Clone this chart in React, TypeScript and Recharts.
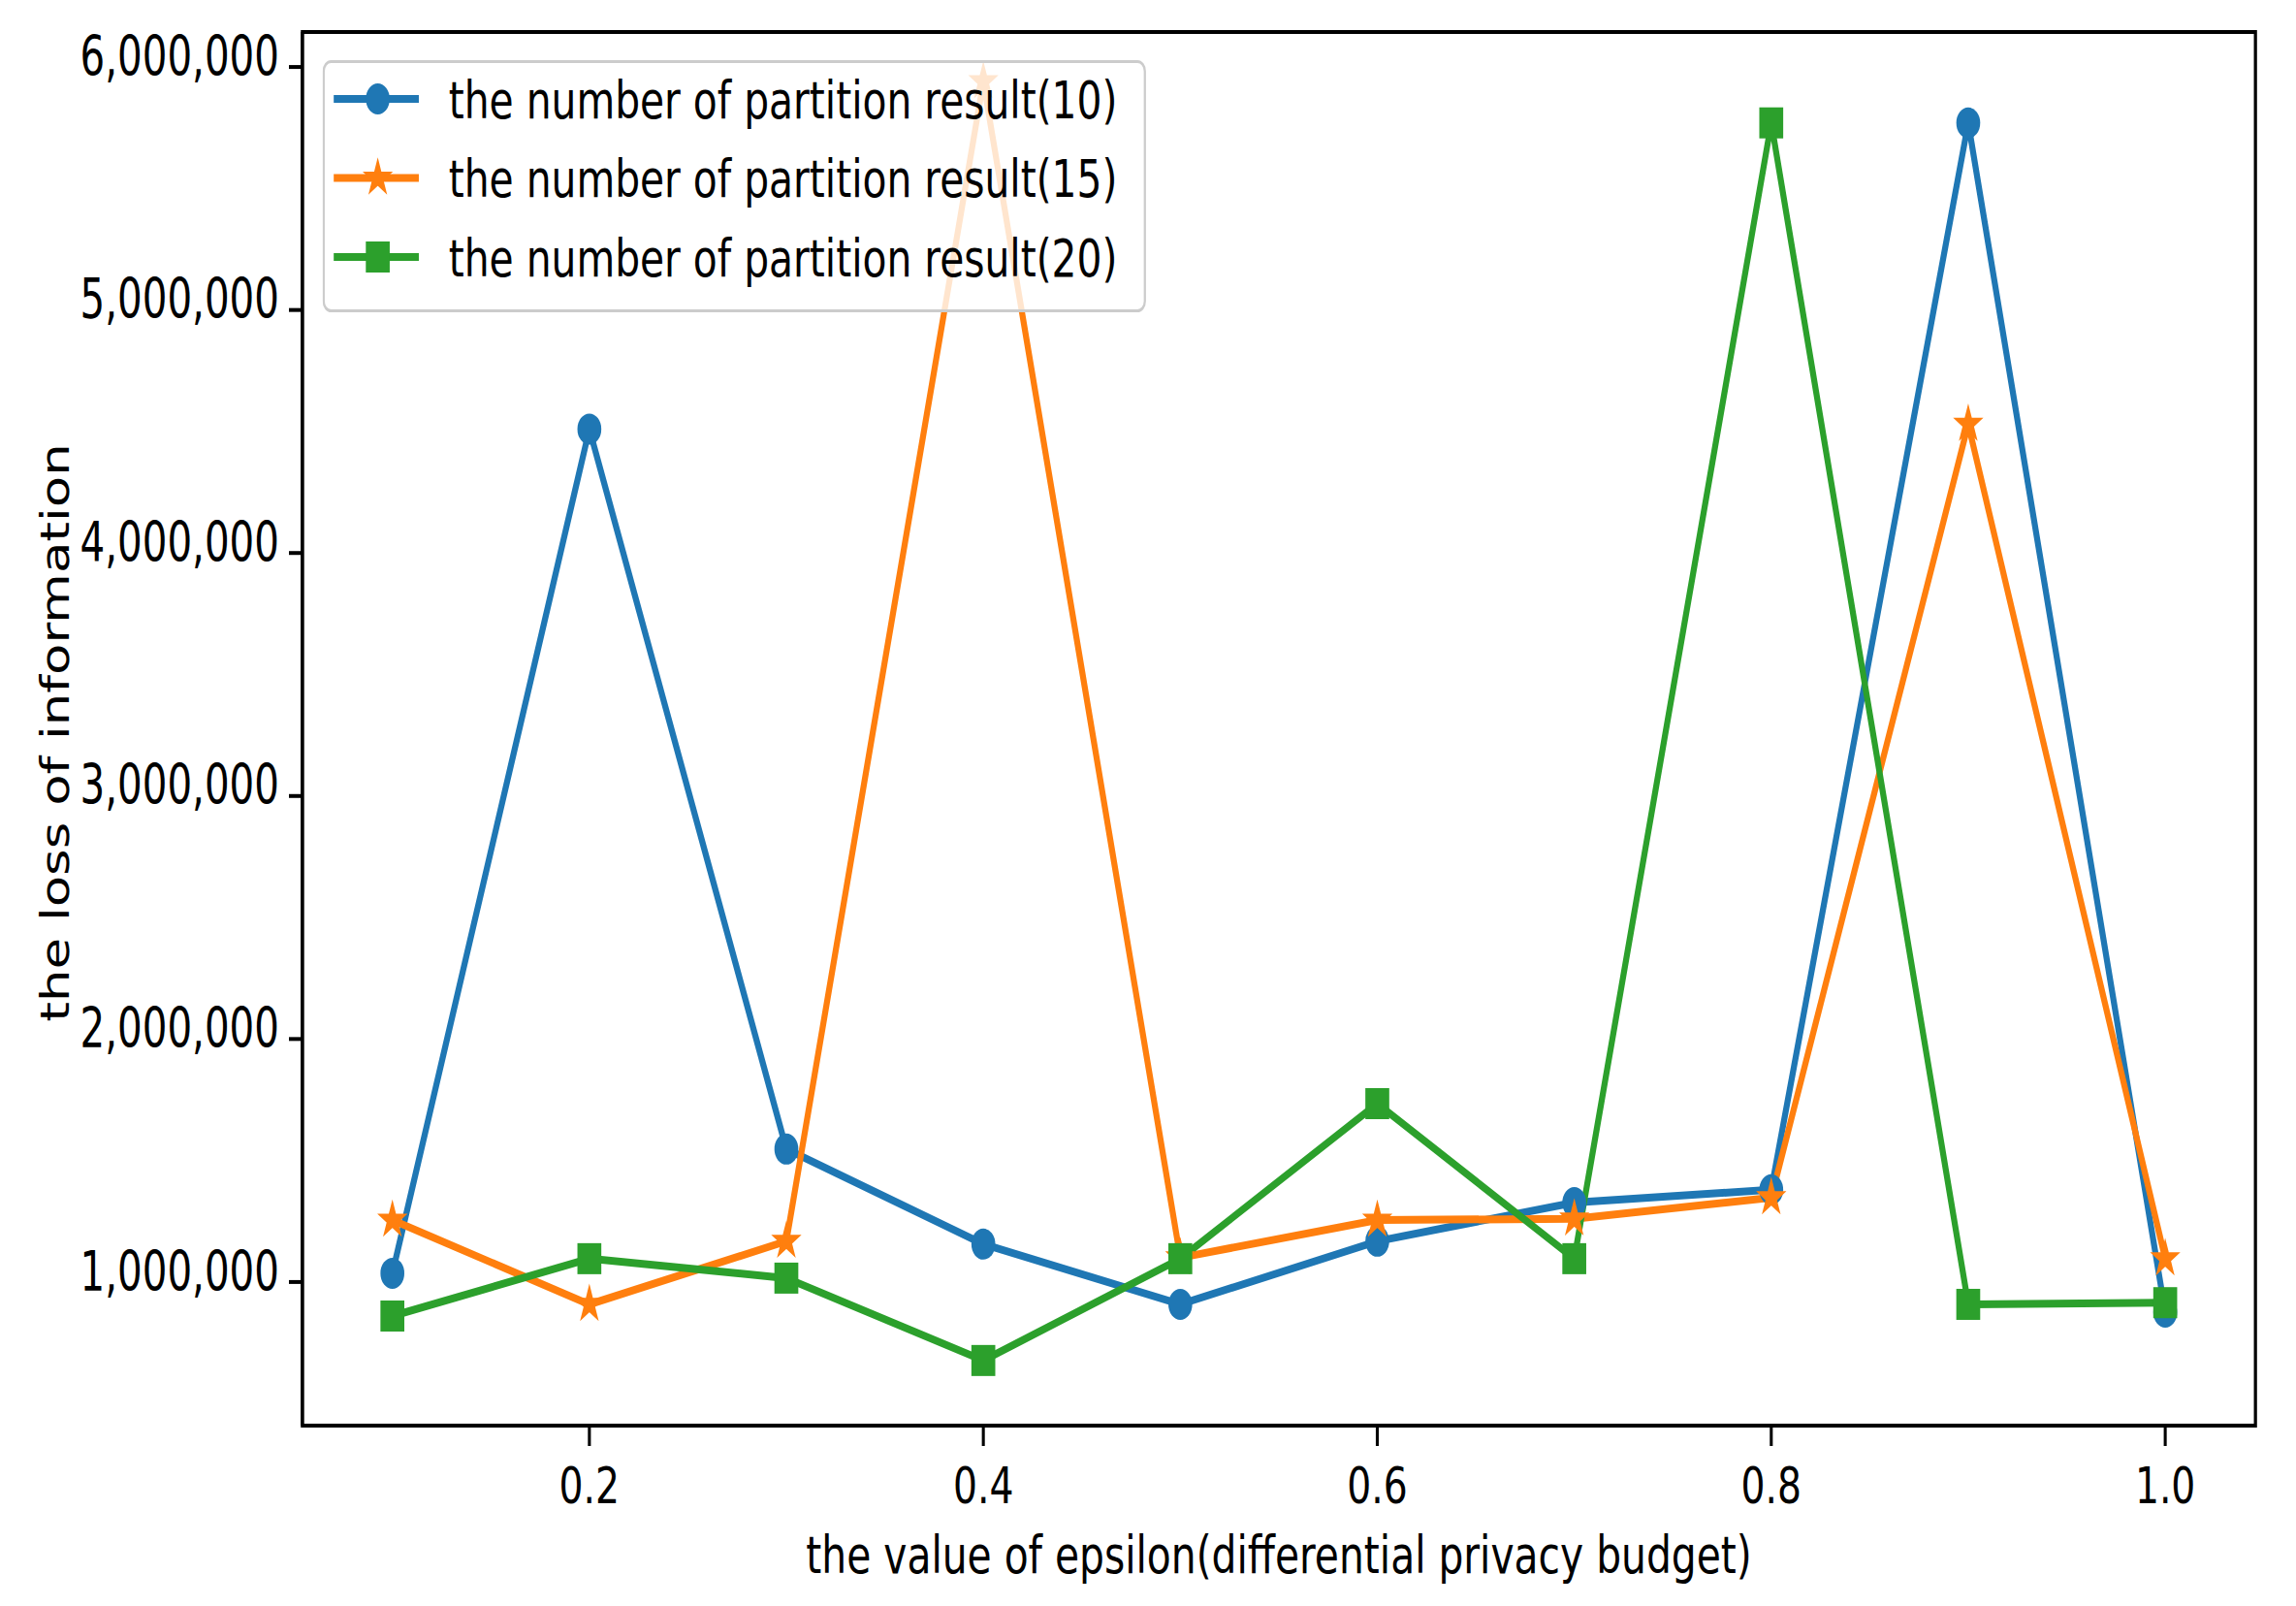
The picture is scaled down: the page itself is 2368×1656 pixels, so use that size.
import React from 'react';
import { LineChart, Line, XAxis, YAxis, Legend, ReferenceArea } from 'recharts';

// values
const epsilon = [0.1, 0.2, 0.3, 0.4, 0.5, 0.6, 0.7, 0.8, 0.9, 1.0];
const result10 = [1036000, 4510000, 1547000, 1156000, 908000, 1168000, 1327000, 1380000, 5770000, 876000];
const result15 = [1255000, 908000, 1168000, 5940000, 1100000, 1255000, 1260000, 1347000, 4530000, 1096000];
const result20 = [860000, 1096000, 1016000, 677000, 1096000, 1734000, 1096000, 5770000, 908000, 915000];

const xTicks = [0.2, 0.4, 0.6, 0.8, 1.0];
const yTicks = [1000000, 2000000, 3000000, 4000000, 5000000, 6000000];
const xDomain = [0.0543, 1.0458];
const yDomain = [409000, 6144000];

const seriesNames = [
  'the number of partition result(10)',
  'the number of partition result(15)',
  'the number of partition result(20)',
];

const data = epsilon.map((e, i) => ({
  eps: e,
  r10: result10[i],
  r15: result15[i],
  r20: result20[i],
}));

// the reference is a horizontally squeezed matplotlib figure
const SX = 0.77;
const W = 2368;
const H = 1656;
const innerW = Math.round(W / SX);
const plotLeft = 405;
const plotRight = 3021;

const BLUE = '#1f77b4';
const ORANGE = '#ff7f0e';
const GREEN = '#2ca02c';
const FONT = '"DejaVu Sans", sans-serif';

const starPoints = (cx: number, cy: number, R: number) => {
  const r = R * 0.381966;
  const pts: string[] = [];
  for (let k = 0; k < 10; k++) {
    const rad = k % 2 === 0 ? R : r;
    const a = -Math.PI / 2 + (k * Math.PI) / 5;
    pts.push(`${cx + rad * Math.cos(a)},${cy + rad * Math.sin(a)}`);
  }
  return pts.join(' ');
};

const marker = (kind: string, cx: number, cy: number, key?: any) => {
  if (kind === 'circle') return <circle key={key} cx={cx} cy={cy} r={16} fill={BLUE} />;
  if (kind === 'star')
    return <polygon key={key} points={starPoints(cx, cy, 16.5)} fill={ORANGE} stroke={ORANGE} strokeWidth={3} strokeLinejoin="miter" />;
  return <rect key={key} x={cx - 16} y={cy - 16} width={32} height={32} fill={GREEN} />;
};

const dotFor = (kind: string) => (p: any) => {
  if (p.cx == null || p.cy == null) return <g key={p.key ?? p.index} />;
  return marker(kind, p.cx, p.cy, p.key ?? p.index);
};

const fmt = (v: number) => v.toLocaleString('en-US');

const YTick = (props: any) => {
  const { x, y, payload } = props;
  return (
    <text
      transform={`translate(${x},${y - 11}) scale(0.92,1)`}
      textAnchor="end"
      dominantBaseline="central"
      fontSize={57}
      fontFamily={FONT}
      fill="#000"
    >
      {fmt(payload.value)}
    </text>
  );
};

const legendRows = [
  { name: seriesNames[0], color: BLUE, kind: 'circle' },
  { name: seriesNames[1], color: ORANGE, kind: 'star' },
  { name: seriesNames[2], color: GREEN, kind: 'square' },
];

const renderLegend = () => (
  <svg width={1103} height={260} style={{ display: 'block' }}>
    <rect x={1.5} y={1.5} width={1100} height={257} rx={10} fill="rgba(255,255,255,0.8)" stroke="#cccccc" strokeWidth={3} />
    {legendRows.map((row, i) => {
      const cy = 40 + i * 81.5;
      return (
        <g key={row.name}>
          <line x1={15} x2={129} y1={cy} y2={cy} stroke={row.color} strokeWidth={8} />
          {marker(row.kind, 74, cy)}
          <text x={169} y={cy + 20} fontSize={53} fontFamily={FONT} fill="#000">
            {row.name}
          </text>
        </g>
      );
    })}
  </svg>
);

export default function App() {
  return (
    <div style={{ position: 'absolute', left: 0, top: 0, width: W, height: H, overflow: 'hidden', background: '#fff' }}>
      <div style={{ width: innerW, height: H, transform: `scaleX(${SX})`, transformOrigin: '0 0', fontFamily: FONT }}>
        <LineChart width={innerW} height={H} data={data} margin={{ top: 33, right: innerW - plotRight, left: 0, bottom: 0 }}>
          <XAxis
            dataKey="eps"
            type="number"
            domain={xDomain}
            allowDataOverflow
            ticks={xTicks}
            tickFormatter={(v) => v.toFixed(1)}
            height={186}
            tickSize={21}
            tickMargin={23}
            tick={{ fontSize: 51, fill: '#000', fontFamily: FONT }}
            tickLine={{ stroke: '#000', strokeWidth: 4 }}
            axisLine={{ stroke: '#000', strokeWidth: 4.2 }}
            label={{
              content: (p: any) => {
                const vb = p.viewBox || { x: plotLeft, y: 1470, width: plotRight - plotLeft, height: 186 };
                return (
                  <text x={vb.x + vb.width / 2} y={vb.y + vb.height - 34} textAnchor="middle" fontSize={53} fontFamily={FONT} fill="#000">
                    the value of epsilon(differential privacy budget)
                  </text>
                );
              },
            }}
          />
          <YAxis
            type="number"
            domain={yDomain}
            allowDataOverflow
            ticks={yTicks}
            width={plotLeft}
            tickSize={18}
            tickMargin={13}
            tick={<YTick />}
            tickLine={{ stroke: '#000', strokeWidth: 4 }}
            axisLine={{ stroke: '#000', strokeWidth: 4.2 }}
            label={{
              content: (p: any) => {
                const vb = p.viewBox || { x: 0, y: 33, width: plotLeft, height: 1437 };
                const cy = vb.y + vb.height / 2 + 4;
                return (
                  <text x={92} y={cy} transform={`rotate(-90, 92, ${cy})`} textAnchor="middle" fontSize={53} fontFamily={FONT} fill="#000">
                    the loss of information
                  </text>
                );
              },
            }}
          />
          <ReferenceArea x1={xDomain[0]} x2={xDomain[1]} y1={yDomain[0]} y2={yDomain[1]} fill="none" stroke="#000" strokeWidth={4.2} fillOpacity={0} />
          <Line dataKey="r10" name={seriesNames[0]} stroke={BLUE} strokeWidth={8} dot={dotFor('circle')} activeDot={false} isAnimationActive={false} />
          <Line dataKey="r15" name={seriesNames[1]} stroke={ORANGE} strokeWidth={8} dot={dotFor('star')} activeDot={false} isAnimationActive={false} />
          <Line dataKey="r20" name={seriesNames[2]} stroke={GREEN} strokeWidth={8} dot={dotFor('square')} activeDot={false} isAnimationActive={false} />
          <Legend
            layout="vertical"
            align="center"
            verticalAlign="middle"
            wrapperStyle={{ left: 432, top: 62, width: 1103, height: 260 }}
            content={renderLegend}
          />
        </LineChart>
      </div>
    </div>
  );
}
